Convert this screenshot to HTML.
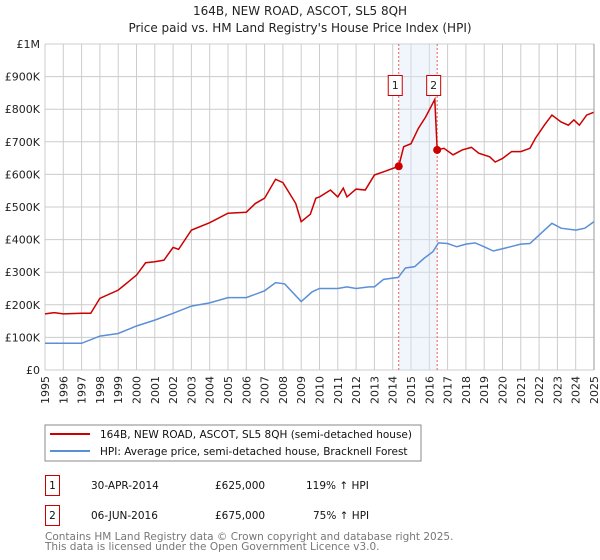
<!DOCTYPE html>
<html><head><meta charset="utf-8"><style>
body{margin:0;background:#fff;font-family:"DejaVu Sans","Liberation Sans",sans-serif;}
svg{display:block}
</style></head><body>
<svg id="c" width="600" height="560" xmlns="http://www.w3.org/2000/svg" font-family="DejaVu Sans, Liberation Sans, sans-serif">
<text x="300" y="15" text-anchor="middle" font-size="12" fill="#222">164B, NEW ROAD, ASCOT, SL5 8QH</text>
<text x="300" y="32" text-anchor="middle" font-size="12" fill="#222">Price paid vs. HM Land Registry's House Price Index (HPI)</text>
<g id="grid"></g><g id="marks"></g><g id="axes"></g>
<rect x="45" y="425" width="376" height="36" fill="#fff" stroke="#888"/>
<line x1="50" y1="434" x2="90" y2="434" stroke="#cc0000" stroke-width="2"/>
<text x="100" y="438" font-size="10.5" fill="#111">164B, NEW ROAD, ASCOT, SL5 8QH (semi-detached house)</text>
<line x1="50" y1="451" x2="90" y2="451" stroke="#5b8fd6" stroke-width="2"/>
<text x="100" y="455" font-size="10.5" fill="#111">HPI: Average price, semi-detached house, Bracknell Forest</text>
<g font-size="10.5" fill="#111">
<rect x="45.5" y="475.5" width="14" height="20" fill="#fff" stroke="#cc0000"/>
<text x="52.5" y="489" text-anchor="middle">1</text>
<text x="91" y="489">30-APR-2014</text><text x="215" y="489">£625,000</text><text x="306" y="489">119% ↑ HPI</text>
<rect x="45.5" y="505.5" width="14" height="20" fill="#fff" stroke="#cc0000"/>
<text x="52.5" y="519" text-anchor="middle">2</text>
<text x="91" y="519">06-JUN-2016</text><text x="215" y="519">£675,000</text><text x="313" y="519">75% ↑ HPI</text>
</g>
<text x="45" y="540" font-size="10.5" fill="#777">Contains HM Land Registry data © Crown copyright and database right 2025.</text>
<text x="45" y="550" font-size="10.5" fill="#777">This data is licensed under the Open Government Licence v3.0.</text>
</svg>
<script>
const redYears=[1995,1995.5,1996,1997,1997.5,1998,1999,2000,2000.5,2001,2001.5,2002,2002.3,2003,2004,2005,2006,2006.5,2007,2007.6,2008,2008.7,2009,2009.5,2009.8,2010,2010.6,2011,2011.3,2011.5,2012,2012.5,2013,2013.5,2014.33,2014.6,2015,2015.4,2015.8,2016.3,2016.43,2016.8,2017.3,2017.8,2018.3,2018.7,2019.3,2019.6,2020,2020.5,2021,2021.5,2021.8,2022.3,2022.7,2023.2,2023.6,2023.9,2024.2,2024.6,2025];
const redValues=[172,176,172,174,174,220,245,291,329,332,337,376,370,429,452,481,484,511,527,585,575,511,455,478,527,531,552,531,558,531,555,552,598,608,625,685,694,741,776,830,675,680,660,675,683,665,654,638,649,670,670,680,711,752,782,761,751,767,751,782,791];
const hpiYears=[1995,1996,1997,1998,1999,2000,2001,2002,2003,2004,2005,2006,2007,2007.6,2008.1,2009,2009.6,2010,2011,2011.5,2012,2012.7,2013,2013.5,2014.3,2014.7,2015.2,2015.7,2016.2,2016.5,2017,2017.5,2018,2018.5,2019,2019.5,2020,2020.5,2021,2021.5,2022,2022.7,2023.2,2024,2024.5,2025];
const hpiValues=[82,82,82,104,112,135,153,174,196,206,222,222,243,268,264,210,240,250,250,255,250,255,255,278,284,313,317,342,363,390,388,378,386,390,378,365,372,379,386,388,414,450,435,429,435,455];
const saleYears=[2014.33,2016.43];
const saleValues=[625,675];
const saleLabels=["1","2"];
const yTickValues=[0,100,200,300,400,500,600,700,800,900,1000];
const yTickLabels=["£0","£100K","£200K","£300K","£400K","£500K","£600K","£700K","£800K","£900K","£1M"];
const xTickYears=[1995,1996,1997,1998,1999,2000,2001,2002,2003,2004,2005,2006,2007,2008,2009,2010,2011,2012,2013,2014,2015,2016,2017,2018,2019,2020,2021,2022,2023,2024,2025];

const NS="http://www.w3.org/2000/svg";
const X0=45,X1=594,Y0=370,Y1=44;
const xs=y=>X0+(y-1995)/30*(X1-X0);
const ys=v=>Y0-v/1000*(Y0-Y1);
function mk(tag,attrs,parent){const e=document.createElementNS(NS,tag);for(const k in attrs)e.setAttribute(k,attrs[k]);parent.appendChild(e);return e;}
const grid=document.getElementById('grid'),marks=document.getElementById('marks'),axes=document.getElementById('axes');
yTickValues.forEach((v,i)=>{
 const l=mk('line',{x1:X0,x2:X1,y1:ys(v),y2:ys(v),stroke:'#cccccc','stroke-width':1},grid);
 
 
 const t=mk('text',{x:X0-5,y:ys(v)+4,'text-anchor':'end','font-size':11,fill:'#222'},axes);
 t.textContent=yTickLabels[i];
 
 
});
xTickYears.forEach(y=>{
 const l=mk('line',{x1:xs(y),x2:xs(y),y1:Y1,y2:Y0,stroke:'#cccccc','stroke-width':1},grid);
 
 
 const t=mk('text',{x:0,y:0,'text-anchor':'end','font-size':11,fill:'#222',transform:`translate(${xs(y)+4},${Y0+6}) rotate(-90)`},axes);
 t.textContent=y;
 
 
});
const band=mk('rect',{x:xs(saleYears[0]),y:Y1,width:xs(saleYears[1])-xs(saleYears[0]),height:Y0-Y1,fill:'#dde8fa','fill-opacity':0.4},grid);


saleYears.forEach(y=>{
 const l=mk('line',{x1:xs(y),x2:xs(y),y1:Y1,y2:Y0,stroke:'#e06060','stroke-dasharray':'2,2','stroke-width':1},grid);
 
 
});
const hp=mk('polyline',{points:hpiYears.map((y,i)=>xs(y)+','+ys(hpiValues[i])).join(' '),fill:'none',stroke:'#5b8fd6','stroke-width':1.5},marks);


const rp=mk('polyline',{points:redYears.map((y,i)=>xs(y)+','+ys(redValues[i])).join(' '),fill:'none',stroke:'#cc0000','stroke-width':1.5},marks);


saleYears.forEach((y,i)=>{
 const c=mk('circle',{cx:xs(y),cy:ys(saleValues[i]),r:4,fill:'#cc0000'},marks);
 
 
 const r=mk('rect',{x:xs(y)-10.5,y:75.5,width:14,height:20,fill:'#fff',stroke:'#cc0000'},marks);
 
 
 const t=mk('text',{x:xs(y)-3.5,y:89,'text-anchor':'middle','font-size':11,fill:'#222'},marks);
 t.textContent=saleLabels[i];
 
 
});
const ax=mk('line',{x1:X1,x2:X1,y1:Y1,y2:Y0,stroke:'#999'},axes);


</script>
</body></html>
